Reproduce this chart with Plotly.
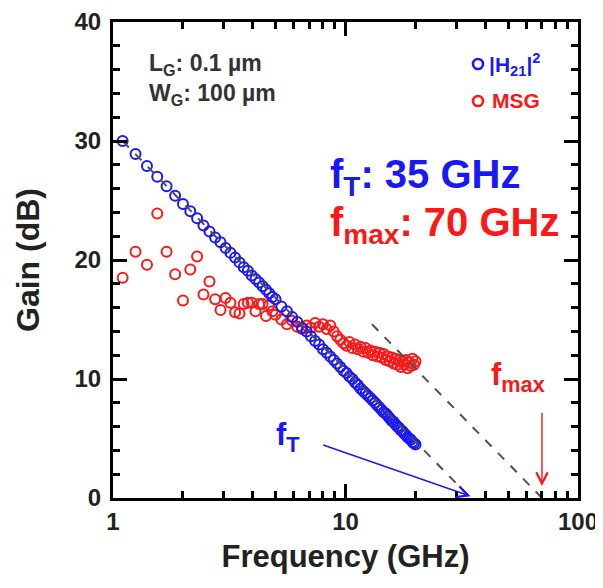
import math
import plotly.graph_objects as go

# ---------------- data ----------------
freq_ghz = [1.1, 1.25, 1.4, 1.55, 1.7, 1.85, 2.0, 2.15, 2.3, 2.45, 2.6, 2.75, 2.9, 3.05,
            3.2, 3.35, 3.5, 3.65, 3.8, 3.95, 4.1, 4.25, 4.4, 4.55, 4.7, 4.85, 5.0,
            5.3, 5.6, 5.9, 6.2, 6.5, 6.8, 7.1, 7.4, 7.7, 8.0, 8.3, 8.6, 8.9, 9.2, 9.5,
            9.8, 10.1, 10.4, 10.7, 11.0, 11.3, 11.6, 11.9, 12.2, 12.5, 12.8, 13.1, 13.4,
            13.7, 14.0, 14.3, 14.6, 14.9, 15.2, 15.5, 15.8, 16.1, 16.4, 16.7, 17.0, 17.3,
            17.6, 17.9, 18.2, 18.5, 18.8, 19.1, 19.4, 19.7, 20.0]

h21_db = [30.0, 28.9, 27.9, 27.0, 26.2, 25.4, 24.7, 24.1, 23.5, 22.9, 22.4, 21.9, 21.5, 21.0,
          20.6, 20.2, 19.8, 19.4, 19.1, 18.7, 18.4, 18.1, 17.8, 17.5, 17.2, 16.9, 16.7,
          16.1, 15.7, 15.2, 14.8, 14.3, 14.0, 13.6, 13.2, 12.9, 12.5, 12.2, 11.9, 11.6, 11.3, 11.0,
          10.7, 10.5, 10.2, 10.0, 9.7, 9.5, 9.2, 9.0, 8.8, 8.6, 8.4, 8.2, 8.0,
          7.8, 7.6, 7.4, 7.2, 7.1, 6.9, 6.7, 6.5, 6.4, 6.2, 6.0, 5.9, 5.7,
          5.6, 5.4, 5.3, 5.1, 5.0, 4.9, 4.7, 4.6, 4.5]

msg_db = [18.5, 20.7, 19.6, 23.9, 20.7, 18.8, 16.6, 19.2, 20.3, 17.1, 18.2, 16.7, 15.8, 16.8,
          16.4, 15.6, 15.5, 16.3, 16.4, 16.4, 15.7, 16.3, 16.3, 15.3, 16.2, 15.7, 15.4,
          15.0, 14.6, 14.9, 14.4, 14.2, 14.5, 14.3, 14.7, 14.4, 14.6, 14.2, 14.5, 14.0, 13.6, 13.3,
          13.0, 12.8, 13.1, 12.6, 12.9, 12.5, 12.7, 12.3, 12.6, 12.2, 12.4, 12.0, 12.3,
          11.9, 12.2, 11.8, 12.1, 11.6, 11.9, 11.5, 11.8, 11.3, 11.7, 11.2, 11.6, 11.0,
          11.5, 11.2, 11.6, 10.9, 11.4, 11.1, 11.7, 11.2, 11.5]

# extrapolation (-20 dB/dec) guide lines
ft_line_x = [1.1, 34.5]
ft_line_y = [30.0, 0.0]
fmax_line_x = [13.0, 70.0]
fmax_line_y = [14.6, 0.0]

ft_ghz = 35
fmax_ghz = 70

x_tick_vals = [1, 10, 100]
x_tick_text = ["1", "10", "100"]
y_tick_vals = [0, 10, 20, 30, 40]

# ---------------- styling ----------------
FONT = "Liberation Sans, Arial, sans-serif"
BLUE = "rgb(25,25,245)"
RED = "rgb(250,25,25)"
INK = "#222222"

PAGE_OFF = 8                      # browser body margin
W, H = 603 - PAGE_OFF, 588 - PAGE_OFF
# plot area in page pixels
L, R, T, B = 113, 578, 22, 498
def px(x):
    return (x - L) / (R - L)
def py(y):
    return (B - y) / (B - T)

fig = go.Figure()

fig.add_trace(go.Scatter(
    x=freq_ghz, y=msg_db, mode="markers", name="MSG",
    marker=dict(symbol="circle-open", size=10, color=RED, line=dict(width=2, color=RED)),
    showlegend=False))
fig.add_trace(go.Scatter(
    x=freq_ghz, y=h21_db, mode="markers", name="|H21|2",
    marker=dict(symbol="circle-open", size=10, color=BLUE, line=dict(width=2, color=BLUE)),
    showlegend=False))
fig.add_trace(go.Scatter(
    x=ft_line_x, y=ft_line_y, mode="lines",
    line=dict(color="#505050", width=2, dash="dash"), showlegend=False))
fig.add_trace(go.Scatter(
    x=fmax_line_x, y=fmax_line_y, mode="lines",
    line=dict(color="#505050", width=2, dash="dash"), showlegend=False))

annos = []
def text(xp, yp, s, size, color, xanchor="left"):
    annos.append(dict(xref="paper", yref="paper", x=xp, y=yp, text=s, showarrow=False,
                      xanchor=xanchor, yanchor="middle",
                      font=dict(family=FONT, size=size, color=color, weight="bold")))

text(px(147), py(64), "L<sub>G</sub>: 0.1 µm", 23, "#333333")
text(px(147), py(94), "W<sub>G</sub>: 100 µm", 23, "#333333")
text(px(487), py(64), "|H<sub>21</sub>|<sup>2</sup>", 21, BLUE)
text(px(490), py(101), "MSG", 21, RED)
text(px(328), py(177), "f<sub>T</sub>: %d GHz" % ft_ghz, 40, BLUE)
text(px(328), py(225), "f<sub>max</sub>: %d GHz" % fmax_ghz, 40, RED)
text(px(274), py(437), "f<sub>T</sub>", 31, BLUE)
text(px(489), py(377), "f<sub>max</sub>", 31, RED)

# arrows
annos.append(dict(xref="x", yref="y", axref="x", ayref="y",
                  x=math.log10(ft_ghz - 0.5), y=0.15, ax=math.log10(7.9), ay=4.5,
                  text="", showarrow=True, arrowhead=5, arrowsize=1.6, arrowwidth=1.4,
                  arrowcolor=BLUE))
annos.append(dict(xref="x", yref="y", axref="x", ayref="y",
                  x=math.log10(fmax_ghz), y=1.0, ax=math.log10(fmax_ghz), ay=7.3,
                  text="", showarrow=True, arrowhead=5, arrowsize=1.6, arrowwidth=1.4,
                  arrowcolor=RED))

shapes = []
for yy, col in [(64, BLUE), (101, RED)]:
    shapes.append(dict(type="circle", xref="paper", yref="paper",
                       xsizemode="pixel", ysizemode="pixel",
                       xanchor=px(478), yanchor=py(yy), x0=-5, x1=5, y0=-5, y1=5,
                       line=dict(color=col, width=2.6)))

axis_common = dict(showline=True, linewidth=3, linecolor="black", mirror="ticks",
                   ticks="inside", ticklen=14, tickwidth=3, tickcolor="black",
                   showgrid=False, zeroline=False, ticklabeloverflow="allow",
                   automargin=False,
                   tickfont=dict(family=FONT, size=24, color=INK, weight="bold"))

fig.update_layout(
    width=W, height=H,
    margin=dict(l=L - PAGE_OFF, r=W - (R - PAGE_OFF), t=T - PAGE_OFF, b=H - (B - PAGE_OFF)),
    paper_bgcolor="white", plot_bgcolor="white",
    annotations=annos, shapes=shapes,
    xaxis=dict(type="log", range=[0, 2], tickvals=x_tick_vals, ticktext=x_tick_text,
               title=dict(text="Frequency (GHz)", standoff=12,
                          font=dict(family=FONT, size=31, color=INK, weight="bold")),
               minor=dict(ticks="inside", ticklen=7, tickwidth=2.5, tickcolor="black",
                          tickvals=[2, 3, 4, 5, 6, 7, 8, 9, 20, 30, 40, 50, 60, 70, 80, 90],
                          showgrid=False),
               **axis_common),
    yaxis=dict(range=[0, 40], tickvals=y_tick_vals, ticklabelstandoff=4,
               title=dict(text="Gain (dB)", standoff=26,
                          font=dict(family=FONT, size=32, color=INK, weight="bold")),
               minor=dict(ticks="inside", ticklen=7, tickwidth=2.5, tickcolor="black",
                          dtick=2, showgrid=False),
               **axis_common),
)

fig.write_html("out.html")
